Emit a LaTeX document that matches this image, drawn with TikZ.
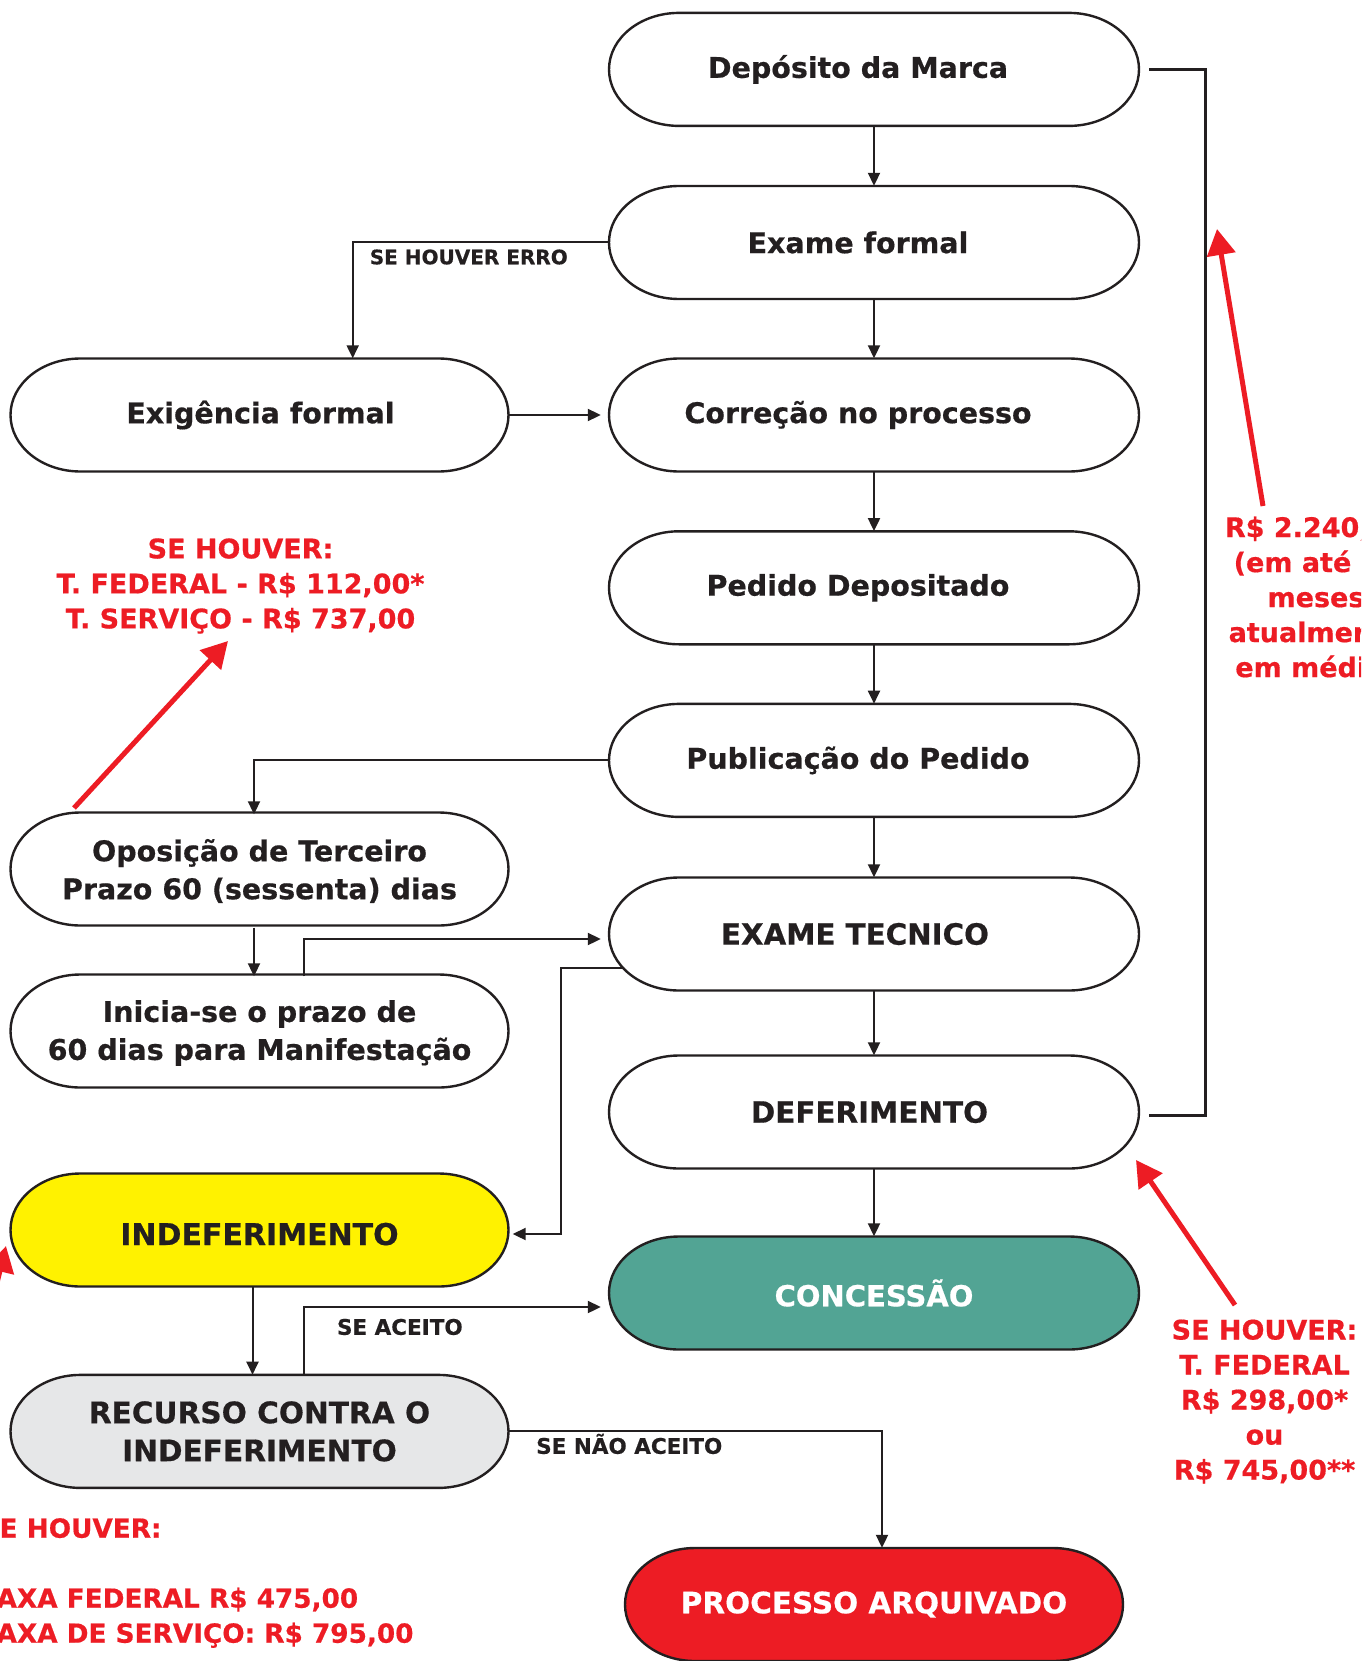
\documentclass[tikz,border=0pt]{standalone}
\usepackage{fontspec}
\setmainfont{DejaVu Sans}[BoldFeatures={FakeBold=0.5}]
\usetikzlibrary{arrows.meta,calc}
\definecolor{ink}{HTML}{231F20}
\definecolor{rd}{HTML}{ED1C24}
\definecolor{yel}{HTML}{FFF200}
\definecolor{tealc}{HTML}{52A494}
\definecolor{gry}{HTML}{E6E7E8}
\newcommand\fs[1]{\bfseries\fontsize{#1}{38}\selectfont}
\tikzset{
 pillline/.style={draw=ink, line width=2.4pt},
 pilltext/.style={inner sep=0pt, minimum height=113pt, font=\fs{28.5}},
 conn/.style={draw=ink, line width=2pt, -{Triangle[length=13pt,width=12pt]}},
 bracketline/.style={draw=ink, line width=3.2pt},
 redarrow/.style={draw=rd, line width=5pt, -{Triangle[length=26pt,width=28pt]}},
 redtext/.style={text=rd, font=\bfseries\fontsize{27}{35}\selectfont, align=center, inner sep=0pt},
 lbl/.style={text=ink, font=\bfseries\fontsize{21.5}{26}\selectfont, inner sep=0pt, anchor=base west},
}
% #1 name, #2 cx, #3 cy (down), #4 width, #5 fill, #6 text colour, #7 extra options, #8 text
\newcommand\pill[8]{%
  \path[pillline, fill=#5] ({#2-#4/2+70}, {-#3+56.5}) -- ({#2+#4/2-70}, {-#3+56.5})
    arc[start angle=90, end angle=-90, x radius=70, y radius=56.5]
    -- ({#2-#4/2+70}, {-#3-56.5})
    arc[start angle=270, end angle=90, x radius=70, y radius=56.5] -- cycle;
  \node[pilltext, text=#6, minimum width=#4, #7] (#1) at (#2,-#3) {#8};
}
\begin{document}
\begin{tikzpicture}[x=1pt,y=1pt]
\useasboundingbox (0,0) rectangle (1361,-1661);
\fill[white] (0,0) rectangle (1361,-1661);
\begin{scope}
\clip (0,0) rectangle (1361,-1661);
% right column
\pill{dep}{874}{69.4}{530}{white}{ink}{}{\hspace*{-32pt}Depósito da Marca}
\pill{ef}{874}{242.5}{530}{white}{ink}{}{\hspace*{-32pt}Exame formal}
\pill{cor}{874}{415}{530}{white}{ink}{}{\hspace*{-32pt}Correção no processo}
\pill{ped}{874}{587.8}{530}{white}{ink}{}{\hspace*{-32pt}Pedido Depositado}
\pill{pub}{874}{760.4}{530}{white}{ink}{}{\hspace*{-32pt}Publicação do Pedido}
\pill{et}{874}{934}{530}{white}{ink}{font=\fs{29.3}}{\hspace*{-38pt}EXAME TECNICO}
\pill{def}{874}{1112}{530}{white}{ink}{font=\fs{29.4}}{\hspace*{-9pt}DEFERIMENTO}
\pill{con}{874}{1293}{530}{tealc}{white}{font=\fs{29}}{CONCESSÃO}
\pill{arq}{874}{1604.5}{498}{rd}{white}{font=\fs{29.5}}{PROCESSO ARQUIVADO}
% left column
\pill{exig}{259.5}{415}{498}{white}{ink}{}{\hspace*{2pt}Exigência formal}
\pill{opo}{259.5}{869}{498}{white}{ink}{align=center, yshift=-2pt}{Oposição de Terceiro\\Prazo 60 (sessenta) dias}
\pill{ini}{259.5}{1031}{498}{white}{ink}{align=center, yshift=-2pt}{Inicia-se o prazo de\\60 dias para Manifestação}
\pill{ind}{259.5}{1230}{498}{yel}{ink}{font=\fs{30}, text height=30pt, text depth=0pt}{INDEFERIMENTO}
\pill{rec}{259.5}{1431.4}{498}{gry}{ink}{align=center, font=\fs{29.6}}{RECURSO CONTRA O\\INDEFERIMENTO}
% black connectors
\draw[conn] (dep.south) -- (ef.north);
\draw[conn] (ef.south) -- (cor.north);
\draw[conn] (cor.south) -- (ped.north);
\draw[conn] (ped.south) -- (pub.north);
\draw[conn] (pub.south) -- (et.north);
\draw[conn] (et.south) -- (def.north);
\draw[conn] (def.south) -- (con.north);
\draw[conn] (ef.west) -| ([xshift=93.2pt]exig.north);
\draw[conn, shorten >=8pt] (exig.east) -- (cor.west);
\draw[conn] (pub.west) -| ([xshift=-5.5pt]opo.north);
\draw[conn] ([xshift=-5.5pt]opo.south) -- ([xshift=-5.5pt]ini.north);
\draw[conn, shorten >=8pt] ([xshift=44.5pt]ini.north) |- ([yshift=-5pt]et.west);
\coordinate (etout) at ($(et.west)+(14.6,-34)$);
\draw[conn, shorten >=4pt] (etout) -- ++(-62,0) |- ([yshift=-4pt]ind.east);
\draw[conn] ([xshift=-7pt]ind.south) -- ([xshift=-7pt]rec.north);
\draw[conn, shorten >=8pt] ([xshift=44.5pt]rec.north) |- ([yshift=-14pt]con.west);
\draw[conn] (rec.east) -| ([xshift=8pt]arq.north);
\draw[bracketline] ([xshift=10pt]dep.east) -- ++(56,0) |- ([xshift=10pt,yshift=-3.5pt]def.east);
% labels
\node[lbl, font=\bfseries\fontsize{20}{24}\selectfont] (l1) at (369.6,-264.3) {SE HOUVER ERRO};
\node[lbl] (l2) at (336.8,-1334.8) {SE ACEITO};
\node[lbl] (l3) at (536,-1453.8) {SE NÃO ACEITO};
% red annotations
\node[redtext] (r1) at (240.5,-586) {SE HOUVER:\\T. FEDERAL - R\$ 112,00*\\T. SERVIÇO - R\$ 737,00};
\node[redtext] (r2) at (1316,-598.6) {R\$ 2.240,00\\(em até 24\\meses\\atualmente\\em média)};
\node[redtext] (r3) at (1264.5,-1401.5) {SE HOUVER:\\T. FEDERAL\\R\$ 298,00*\\ou\\R\$ 745,00**};
\node[redtext, align=left, anchor=west, font=\bfseries\fontsize{26.3}{35}\selectfont] (r4) at (-19.5,-1583) {SE HOUVER:\\\mbox{}\\TAXA FEDERAL R\$ 475,00\\TAXA DE SERVIÇO: R\$ 795,00};
\coordinate (a1s) at (1263,-506);
\coordinate (a1e) at (1217,-229);
\coordinate (a2s) at (74,-808);
\coordinate (a2e) at (228,-641);
\coordinate (a3s) at (1235,-1305);
\coordinate (a3e) at (1136,-1160);
\coordinate (a4s) at (-12,-1320);
\coordinate (a4e) at (6,-1246);
\draw[redarrow] (a1s) -- (a1e);
\draw[redarrow] (a2s) -- (a2e);
\draw[redarrow] (a3s) -- (a3e);
\draw[redarrow] (a4s) -- (a4e);
\end{scope}
\end{tikzpicture}
\end{document}
